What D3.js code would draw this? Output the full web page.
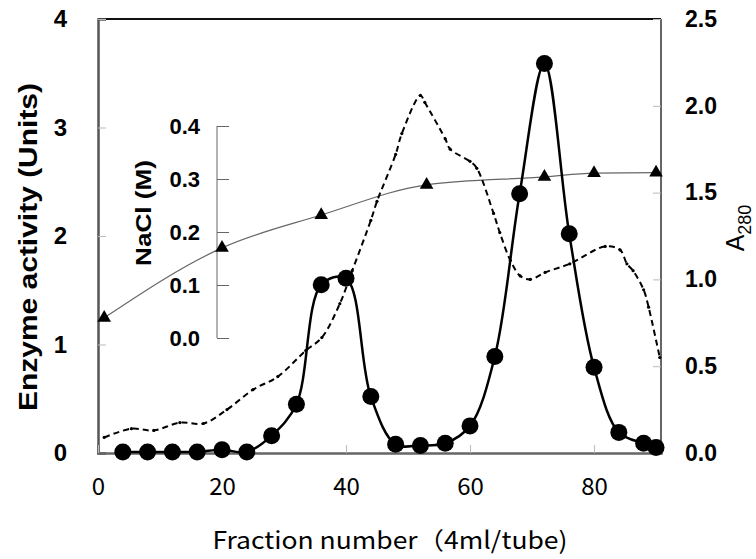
<!DOCTYPE html>
<html>
<head>
<meta charset="utf-8">
<script src="https://cdn.jsdelivr.net/npm/d3@7"></script>
<style>
  body { margin: 0; background: white; }
  svg { display: block; }
</style>
</head>
<body>
<svg width="756" height="559"></svg>
<script>
// enzyme activity (Units), circles
const fractions = [4, 8, 12, 16, 20, 24, 28, 32, 36, 40, 44, 48, 52, 56, 60, 64, 68, 72, 76, 80, 84, 88, 90]
const activity = [0.01, 0.01, 0.01, 0.01, 0.03, 0.01, 0.16, 0.45, 1.55, 1.61, 0.52, 0.08, 0.07, 0.09, 0.25, 0.89, 2.39, 3.59, 2.02, 0.79, 0.19, 0.09, 0.05]

// A280, dashed
const a280X = [1, 5.4, 9, 13.2, 17, 20.8, 25, 29, 33.5, 36.1, 39, 41, 44, 45, 48, 49, 52, 52.7, 56, 56.8, 60, 61.1, 63.8, 64.8, 66.5, 68.1, 69.7, 72.1, 76.1, 81.8, 84.2, 85.3, 86.3, 88, 88.8, 90.6]
const a280Y = [0.09, 0.14, 0.13, 0.175, 0.17, 0.25, 0.365, 0.44, 0.59, 0.665, 0.86, 1.05, 1.34, 1.45, 1.72, 1.84, 2.06, 2.02, 1.81, 1.75, 1.68, 1.64, 1.38, 1.27, 1.11, 1.02, 1.0, 1.04, 1.09, 1.19, 1.17, 1.09, 1.05, 0.94, 0.84, 0.55]

// NaCl (M), triangles
const naclX = [1, 20, 36, 53, 72, 80, 90]
const naclY = [0.038, 0.17, 0.232, 0.289, 0.304, 0.311, 0.312]

const leftTicks = [0, 1, 2, 3, 4]
const rightTicks = [0, 0.5, 1.0, 1.5, 2.0, 2.5]
const xTicks = [0, 20, 40, 60, 80]
const naclTicks = [0, 0.1, 0.2, 0.3, 0.4]

const margin = { left: 98, right: 661, top: 19, bottom: 453 }

const svg = d3.select('svg')

const x = d3.scaleLinear().domain([0, 90.8]).range([margin.left, margin.right])
const yLeft = d3.scaleLinear().domain([0, 4]).range([margin.bottom, margin.top])
const yRight = d3.scaleLinear().domain([0, 2.5]).range([margin.bottom, margin.top])
const yNacl = d3.scaleLinear().domain([0, 0.4]).range([338, 126])

const boldFont = "'Liberation Sans', Arial, sans-serif"
const jpFont = "'Noto Sans CJK JP', 'Liberation Sans', sans-serif"

// frame: top and right
svg.append('line')
  .attr('x1', margin.left).attr('x2', margin.right)
  .attr('y1', margin.top).attr('y2', margin.top)
  .attr('stroke', '#111').attr('stroke-width', 2)
svg.append('line')
  .attr('x1', margin.right).attr('x2', margin.right)
  .attr('y1', margin.top).attr('y2', margin.bottom)
  .attr('stroke', '#333').attr('stroke-width', 1.5)

// left axis
const gLeft = svg.append('g')
  .attr('transform', `translate(${margin.left},0)`)
  .call(d3.axisLeft(yLeft).tickValues(leftTicks).tickSize(-8).tickPadding(31).tickFormat(d3.format('d')))
gLeft.select('.domain').attr('stroke', '#555').attr('stroke-width', 2.5)
gLeft.selectAll('.tick line').attr('stroke', '#bbb')
gLeft.selectAll('.tick text')
  .style('font-family', boldFont).style('font-size', '24px').style('font-weight', 'bold')
  .attr('fill', '#000')

// right axis
const gRight = svg.append('g')
  .attr('transform', `translate(${margin.right},0)`)
  .call(d3.axisRight(yRight).tickValues(rightTicks).tickSize(-8).tickPadding(24).tickFormat(d3.format('.1f')))
gRight.select('.domain').remove()
gRight.selectAll('.tick line').attr('stroke', '#bbb')
gRight.selectAll('.tick text')
  .style('font-family', boldFont).style('font-size', '23px').style('font-weight', 'bold')
  .attr('fill', '#000')

// bottom axis
const gBottom = svg.append('g')
  .attr('transform', `translate(0,${margin.bottom})`)
  .call(d3.axisBottom(x).tickValues(xTicks).tickSize(-8).tickPadding(25).tickFormat(d3.format('d')))
gBottom.select('.domain').attr('stroke', '#666').attr('stroke-width', 2.5)
gBottom.selectAll('.tick line').attr('stroke', '#bbb')
gBottom.selectAll('.tick text')
  .style('font-family', jpFont).style('font-size', '24px')
  .attr('fill', '#000')

// inner NaCl axis
const gNacl = svg.append('g')
  .attr('transform', 'translate(217,0)')
  .call(d3.axisLeft(yNacl).tickValues(naclTicks).tickSize(-12).tickPadding(17).tickFormat(d3.format('.1f')))
gNacl.select('.domain').attr('stroke', '#666').attr('stroke-width', 1)
  .attr('d', `M0,${yNacl(0.4)}V${yNacl(0)}`)
gNacl.selectAll('.tick line').attr('stroke', '#666')
gNacl.selectAll('.tick text')
  .style('font-family', boldFont).style('font-size', '22px').style('font-weight', 'bold')
  .attr('fill', '#000')

// NaCl gradient line
const naclData = naclX.map((d, i) => [d, naclY[i]])
svg.append('path')
  .datum(naclData)
  .attr('fill', 'none')
  .attr('stroke', '#666')
  .attr('stroke-width', 1.2)
  .attr('d', d3.line().x(d => x(d[0])).y(d => yNacl(d[1])).curve(d3.curveMonotoneX))
svg.append('g')
  .selectAll('path')
  .data(naclData)
  .join('path')
  .attr('transform', d => `translate(${x(d[0])},${yNacl(d[1])})`)
  .attr('d', d3.symbol(d3.symbolTriangle, 80))
  .attr('fill', '#000')

// A280 dashed line
const a280Data = a280X.map((d, i) => [d, a280Y[i]])
svg.append('path')
  .datum(a280Data)
  .attr('fill', 'none')
  .attr('stroke', '#000')
  .attr('stroke-width', 2)
  .attr('stroke-dasharray', '6,4')
  .attr('d', d3.line().x(d => x(d[0])).y(d => yRight(d[1])).curve(d3.curveCatmullRom))
svg.append('g')
  .selectAll('circle')
  .data(a280Data)
  .join('circle')
  .attr('cx', d => x(d[0]))
  .attr('cy', d => yRight(d[1]))
  .attr('r', 1.6)
  .attr('fill', '#000')

// enzyme activity
const actData = fractions.map((d, i) => [d, activity[i]])
svg.append('path')
  .datum(actData)
  .attr('fill', 'none')
  .attr('stroke', '#000')
  .attr('stroke-width', 2.5)
  .attr('d', d3.line().x(d => x(d[0])).y(d => yLeft(d[1])).curve(d3.curveCatmullRom))
svg.append('g')
  .selectAll('circle')
  .data(actData)
  .join('circle')
  .attr('cx', d => x(d[0]))
  .attr('cy', d => yLeft(d[1]))
  .attr('r', 8.5)
  .attr('fill', '#000')

// axis titles
svg.append('text')
  .attr('transform', 'translate(37,247) rotate(-90)')
  .attr('text-anchor', 'middle')
  .attr('textLength', 328)
  .attr('lengthAdjust', 'spacingAndGlyphs')
  .style('font-family', boldFont).style('font-size', '25px').style('font-weight', 'bold')
  .text('Enzyme activity (Units)')

svg.append('text')
  .attr('transform', 'translate(151,213) rotate(-90)')
  .attr('text-anchor', 'middle')
  .attr('textLength', 106)
  .attr('lengthAdjust', 'spacingAndGlyphs')
  .style('font-family', boldFont).style('font-size', '22px').style('font-weight', 'bold')
  .text('NaCl (M)')

const a280Label = svg.append('text')
  .attr('transform', 'translate(744,228) rotate(-90)')
  .attr('text-anchor', 'middle')
  .style('font-family', boldFont).style('font-size', '25px')
a280Label.append('tspan').text('A')
a280Label.append('tspan').attr('dy', 7).style('font-size', '18px').text('280')

svg.append('text')
  .attr('x', 390)
  .attr('y', 549)
  .attr('text-anchor', 'middle')
  .attr('textLength', 355)
  .attr('lengthAdjust', 'spacingAndGlyphs')
  .style('font-family', jpFont).style('font-size', '24px')
  .text('Fraction number（4ml/tube)')
</script>
</body>
</html>
